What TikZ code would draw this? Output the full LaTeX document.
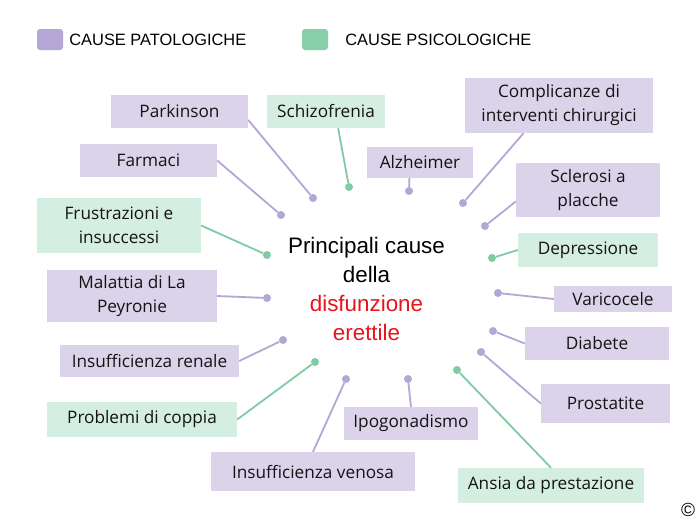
\documentclass[tikz,border=0pt]{standalone}
\usepackage{fontspec}
\setmainfont{Open Sans}
\newfontfamily\arialfont{Liberation Sans}
\usetikzlibrary{positioning}
\definecolor{boxpato}{HTML}{DAD3EA}
\definecolor{boxpsico}{HTML}{D5EEE2}
\definecolor{linkpato}{HTML}{B4A7D6}
\definecolor{linkpsico}{HTML}{7FCBA5}
\definecolor{keypsico}{HTML}{86CFA9}
\definecolor{titlered}{HTML}{E8141B}
\begin{document}
\begin{tikzpicture}[x=1pt, y=-1pt,
    cause/.style={fill=#1, inner sep=0pt, align=center, text=black!92, font=\fontsize{17.2}{24}\selectfont},
    pato/.style={cause=boxpato},
    psico/.style={cause=boxpsico},
    patodot/.style={circle, fill=linkpato, inner sep=0pt, minimum size=8},
    psicodot/.style={circle, fill=linkpsico, inner sep=0pt, minimum size=8},
    patolink/.style={draw=linkpato, line width=1.8},
    psicolink/.style={draw=linkpsico, line width=1.8},
    keybox/.style={rounded corners=3, fill=#1, minimum width=26, minimum height=21, inner sep=0pt},
    keytext/.style={font=\arialfont\fontsize{16.4}{20}\selectfont, inner sep=0pt},
]
    \fill[white] (0,0) rectangle (700,525);
    \useasboundingbox (0,0) rectangle (700,525);

    % legenda
    \node[keybox=linkpato] (keyP) at (50,39.5) {};
    \node[keytext, right=6 of keyP] (keyPtxt) {CAUSE PATOLOGICHE};
    \node[keybox=keypsico] (keyS) at (315,39.5) {};
    \node[keytext, right=17 of keyS] (keyStxt) {CAUSE PSICOLOGICHE};

    % titolo centrale
    \node[font=\arialfont\fontsize{22.4}{29.3}\selectfont, align=center] (title) at (366.5,289)
        {Principali cause\\della\\\textcolor{titlered}{disfunzione}\\\textcolor{titlered}{erettile}};

    % cause
    \node[pato, minimum width=137, minimum height=33] (park) at (179.5,111.5) {Parkinson};
    \node[psico, minimum width=118, minimum height=33] (schi) at (326,111.5) {Schizofrenia};
    \node[pato, minimum width=188, minimum height=55] (compl) at (559,105.5) {Complicanze di\\interventi chirurgici};
    \node[pato, minimum width=137, minimum height=33] (farm) at (148.5,160.5) {Farmaci};
    \node[pato, minimum width=106, minimum height=31] (alz) at (420,162.5) {Alzheimer};
    \node[pato, minimum width=144, minimum height=54] (scle) at (588,190) {Sclerosi a\\placche};
    \node[psico, minimum width=164, minimum height=55] (frus) at (119,225.5) {Frustrazioni e\\insuccessi};
    \node[psico, minimum width=140, minimum height=34] (depr) at (588,250) {Depressione};
    \node[pato, minimum width=170, minimum height=52] (mal) at (132,296) {Malattia di La\\Peyronie};
    \node[pato, minimum width=118, minimum height=26] (vari) at (613,299) {Varicocele};
    \node[pato, minimum width=144, minimum height=33] (diab) at (597,343.5) {Diabete};
    \node[pato, minimum width=179, minimum height=32] (irena) at (149.5,361) {Insufficienza renale};
    \node[pato, minimum width=129, minimum height=39] (prost) at (605.5,403.5) {Prostatite};
    \node[psico, minimum width=190, minimum height=35] (coppia) at (142,419.5) {Problemi di coppia};
    \node[pato, minimum width=134, minimum height=33] (ipo) at (411,423.5) {Ipogonadismo};
    \node[pato, minimum width=204, minimum height=39] (venosa) at (313,471.5) {Insufficienza venosa};
    \node[psico, minimum width=186, minimum height=35] (ansia) at (551,485.5) {Ansia da prestazione};

    % punti attorno al titolo
    \node[patodot] (dPark) at (313,198) {};
    \node[psicodot] (dSchi) at (349,187) {};
    \node[patodot] (dAlz) at (409,191) {};
    \node[patodot] (dCompl) at (463,203) {};
    \node[patodot] (dFarm) at (281,215) {};
    \node[patodot] (dScle) at (485,226) {};
    \node[psicodot] (dFrus) at (267,255) {};
    \node[psicodot] (dDepr) at (492,258) {};
    \node[patodot] (dMal) at (267,298) {};
    \node[patodot] (dVari) at (498,293) {};
    \node[patodot] (dDiab) at (493,331) {};
    \node[patodot] (dIrena) at (283,340) {};
    \node[patodot] (dProst) at (481,352) {};
    \node[psicodot] (dCoppia) at (315,362) {};
    \node[patodot] (dVenosa) at (346,379) {};
    \node[patodot] (dIpo) at (408,379) {};
    \node[psicodot] (dAnsia) at (457,370) {};

    % collegamenti
    \draw[patolink] (park.-7) -- (dPark);
    \draw[psicolink] (schi.-54) -- (dSchi);
    \draw[patolink] (alz.-124) -- (dAlz);
    \draw[patolink] (compl.-142) -- (dCompl);
    \draw[patolink] (farm.east) -- (dFarm);
    \draw[patolink] (scle.189) -- (dScle);
    \draw[psicolink] (frus.east) -- (dFrus);
    \draw[psicolink] (depr.west) -- (dDepr);
    \draw[patolink] (mal.east) -- (dMal);
    \draw[patolink] (vari.west) -- (dVari);
    \draw[patolink] (diab.west) -- (dDiab);
    \draw[patolink] (irena.east) -- (dIrena);
    \draw[patolink] (prost.west) -- (dProst);
    \draw[psicolink] (coppia.east) -- (dCoppia);
    \draw[patolink] (venosa.north) -- (dVenosa);
    \draw[patolink] (ipo.north) -- (dIpo);
    \draw[psicolink] (ansia.north) -- (dAnsia);

    \node[font=\arialfont\fontsize{19}{19}\selectfont, inner sep=0pt] (copy) at (688,510) {©};
\end{tikzpicture}
\end{document}
